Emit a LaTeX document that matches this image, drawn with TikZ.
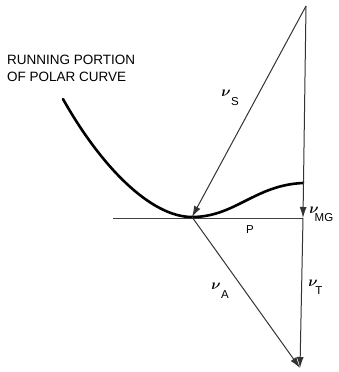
\documentclass[tikz,border=0pt]{standalone}
\usepackage{bm}
\usepackage{fontspec}
\setmainfont{Liberation Sans}
\usetikzlibrary{arrows.meta}
\begin{document}
\begin{tikzpicture}[x=1pt,y=-1pt,
  vec/.style={line width=1pt,draw=black!80,-{Latex[length=11pt,width=7pt]}},
  thin/.style={line width=1pt,draw=black!75},
  curve/.style={line width=2.6pt,line cap=round},
  lab/.style={inner sep=0pt,font=\fontsize{11.5}{12}\selectfont},
  vlab/.style={inner sep=0pt,font=\fontsize{14}{14}\selectfont}]
\useasboundingbox (0,0) rectangle (339,372);
\coordinate (top) at (306,6);
\coordinate (mg) at (303,218);
\coordinate (bot) at (300,368);
\coordinate (c) at (192,217);
\coordinate (hl) at (113,218);
\coordinate (cs) at (63,99);
\coordinate (ce) at (303,183);
% horizontal
\draw[thin] (hl) -- (mg);
% polar curve
\draw[curve] (cs) .. controls (100,165) and (150,217) .. (c)
   .. controls (235,217) and (255,185) .. (ce);
% vectors
\draw[vec] (top) -- (c);
\draw[vec] (top) -- (mg);
\draw[vec] (mg) -- (bot);
\draw[vec] (c) -- (bot);
% labels
\node[anchor=north west,align=left,inner sep=0pt,font=\fontsize{13.5}{17}\selectfont] (title) at (7,55) {RUNNING PORTION\\OF POLAR CURVE};
\node[vlab] (nus) at (226,93) {$\bm{\nu}$};
\node[lab] (ss) at (235,102) {S};
\node[vlab] (numg) at (314,210) {$\bm{\nu}$};
\node[lab] (smg) at (324,218) {MG};
\node[lab] (p) at (250,230) {P};
\node[vlab] (nua) at (216,286) {$\bm{\nu}$};
\node[lab] (sa) at (225,295) {A};
\node[vlab] (nut) at (313,283) {$\bm{\nu}$};
\node[lab] (st) at (319,291) {T};
\end{tikzpicture}
\end{document}
